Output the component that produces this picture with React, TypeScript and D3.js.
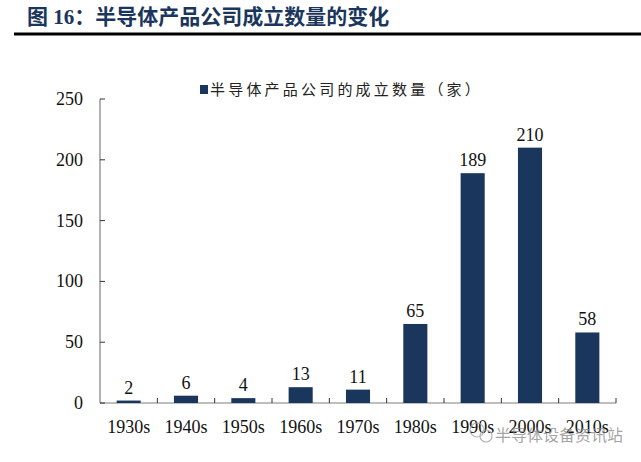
import React from "react";
import * as d3 from "d3";

const categories = ["1930s", "1940s", "1950s", "1960s", "1970s", "1980s", "1990s", "2000s", "2010s"];
const values = [2, 6, 4, 13, 11, 65, 189, 210, 58];
const yTicks = [0, 50, 100, 150, 200, 250];
const seriesName = "半导体产品公司的成立数量（家）";
const titleText = "图 16：半导体产品公司成立数量的变化";
const watermark = "半导体设备资讯站";

export default function App() {
  const W = 641, H = 462;
  const x0 = 100, x1 = 616, yTop = 99, yBot = 403;
  const x = d3.scaleBand<string>().domain(categories).range([x0, x1]).paddingInner(0.58).paddingOuter(0.29);
  const y = d3.scaleLinear().domain([0, 250]).range([yBot, yTop]);
  const bandStep = (x1 - x0) / categories.length;
  const serif = "'Liberation Serif', 'Times New Roman', serif";
  const cjk = "'Noto Sans CJK SC', sans-serif";
  const barColor = "#1b365d";
  return (
    <svg width={W} height={H} style={{ position: "absolute", left: 0, top: 0, background: "#fff" }}>
      <text x={27} y={24} fontFamily={`${serif}, 'Noto Sans CJK SC'`} fontWeight="bold" fontSize={21} fill="#1b365d">
        {titleText}
      </text>
      <line x1={14} x2={641} y1={34} y2={34} stroke="#000" strokeWidth={3} />
      {/* legend */}
      <rect x={200} y={85} width={8} height={9} fill={barColor} />
      <text x={210} y={95} fontFamily={cjk} fontSize={15} fill="#222" letterSpacing={3.2}>
        {seriesName}
      </text>
      {/* axes */}
      <line x1={x0} x2={x0} y1={yTop} y2={yBot} stroke="#7f7f7f" strokeWidth={1.2} />
      <line x1={x0} x2={x1} y1={yBot} y2={yBot} stroke="#7f7f7f" strokeWidth={1.2} />
      {yTicks.map((t) => (
        <g key={t}>
          <line x1={x0} x2={x0 + 5} y1={y(t)} y2={y(t)} stroke="#333" strokeWidth={1} />
          <text x={83} y={y(t) + 6} textAnchor="end" fontFamily={serif} fontSize={18} fill="#111">
            {t}
          </text>
        </g>
      ))}
      {categories.map((c, i) => (
        <line key={c} x1={x0 + bandStep * (i + 1)} x2={x0 + bandStep * (i + 1)} y1={yBot} y2={yBot - 5} stroke="#333" strokeWidth={1} />
      ))}
      {categories.map((c, i) => {
        const bx = x(c)!;
        const bw = x.bandwidth();
        return (
          <g key={c}>
            <rect x={bx} y={y(values[i])} width={bw} height={yBot - y(values[i])} fill={barColor} />
            <text x={bx + bw / 2} y={y(values[i]) - 7} textAnchor="middle" fontFamily={serif} fontSize={18} fill="#111">
              {values[i]}
            </text>
            <text x={bx + bw / 2} y={433} textAnchor="middle" fontFamily={serif} fontSize={18} fill="#111">
              {c}
            </text>
          </g>
        );
      })}
      {/* watermark */}
      <g opacity={0.85}>
        <circle cx={477} cy={430} r={7} fill="none" stroke="#aaa" strokeWidth={1.2} />
        <circle cx={486} cy={436} r={6} fill="none" stroke="#aaa" strokeWidth={1.2} />
        <text x={495} y={441} fontFamily={cjk} fontSize={16} fill="#888" fillOpacity={0.9}>
          {watermark}
        </text>
      </g>
    </svg>
  );
}
